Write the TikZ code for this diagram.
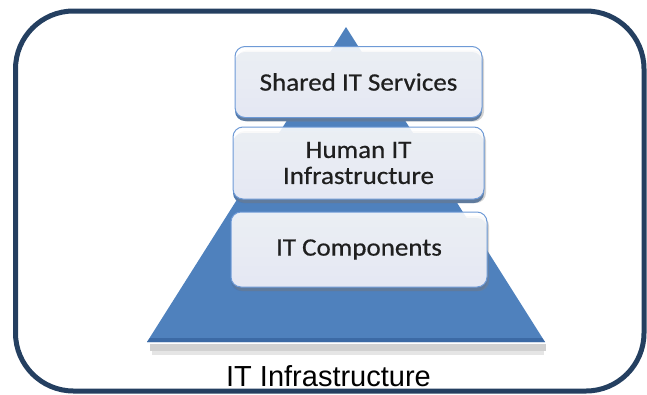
\documentclass[tikz,border=0pt]{standalone}
\usepackage{fontspec}
\setmainfont{Liberation Sans}
\newfontfamily\boxfont[FakeStretch=1.08, FakeBold=0.6]{Carlito}
\usetikzlibrary{shadows,fadings,calc}
\definecolor{frameblue}{HTML}{243F60}
\definecolor{pyrblue}{HTML}{4F81BD}
\definecolor{pyrdark}{HTML}{3C6AA5}
\definecolor{boxedge}{HTML}{6E9AD6}
\definecolor{boxtext}{HTML}{1F1F1F}
\tikzset{
  frame/.style={draw=frameblue, line width=5pt, rounded corners=58pt},
  tier/.style={rectangle, rounded corners=10pt, draw=boxedge, line width=1pt,
     top color=white, bottom color=black!5!blue!3!white, fill opacity=0.88,
     text opacity=1, text=boxtext, font=\boxfont\fontsize{25}{28}\selectfont,
     align=center, inner sep=0pt,
     drop shadow={opacity=0.35, shadow xshift=2pt, shadow yshift=-4pt}},
  caption/.style={font=\fontsize{29}{32}\selectfont, text=black, inner sep=0pt, anchor=base}
}
\begin{document}
\begin{tikzpicture}[x=1pt, y=-1pt]
\useasboundingbox (0,0) rectangle (647,394);
% pyramid shadow
\fill[black, opacity=0.18] (150,344) rectangle (546,351);
\fill[black, opacity=0.10] (152,351) rectangle (544,355);
% pyramid
\coordinate (apex) at (346,27);
\coordinate (bl) at (147,342);
\coordinate (br) at (545,342);
\fill[pyrblue] (apex) -- (br) -- (bl) -- cycle;
\fill[pyrdark] (bl) -- (br) -- ($(br)+(-3,-4)$) -- ($(bl)+(3,-4)$) -- cycle;
% blue bevels under boxes
\fill[pyrdark!90, rounded corners=10pt] (235,52) rectangle (482,121);
\fill[pyrdark!90, rounded corners=10pt] (233,133) rectangle (484,203);
\fill[pyrdark!90, rounded corners=10pt] (231,218) rectangle (487,291);
% tiers
\node[tier, minimum width=247pt, minimum height=71pt] (t1) at (358.5,82) {Shared IT Services};
\node[tier, minimum width=251pt, minimum height=72pt] (t2) at (358.5,163) {Human IT\\[-2pt]Infrastructure};
\node[tier, minimum width=256pt, minimum height=75pt] (t3) at (359,249.5) {IT Components};
% frame
\draw[frame] (15.5,11) rectangle (644,391);
% caption
\node[caption] (cap) at (328.5,386) {IT Infrastructure};
\end{tikzpicture}
\end{document}
